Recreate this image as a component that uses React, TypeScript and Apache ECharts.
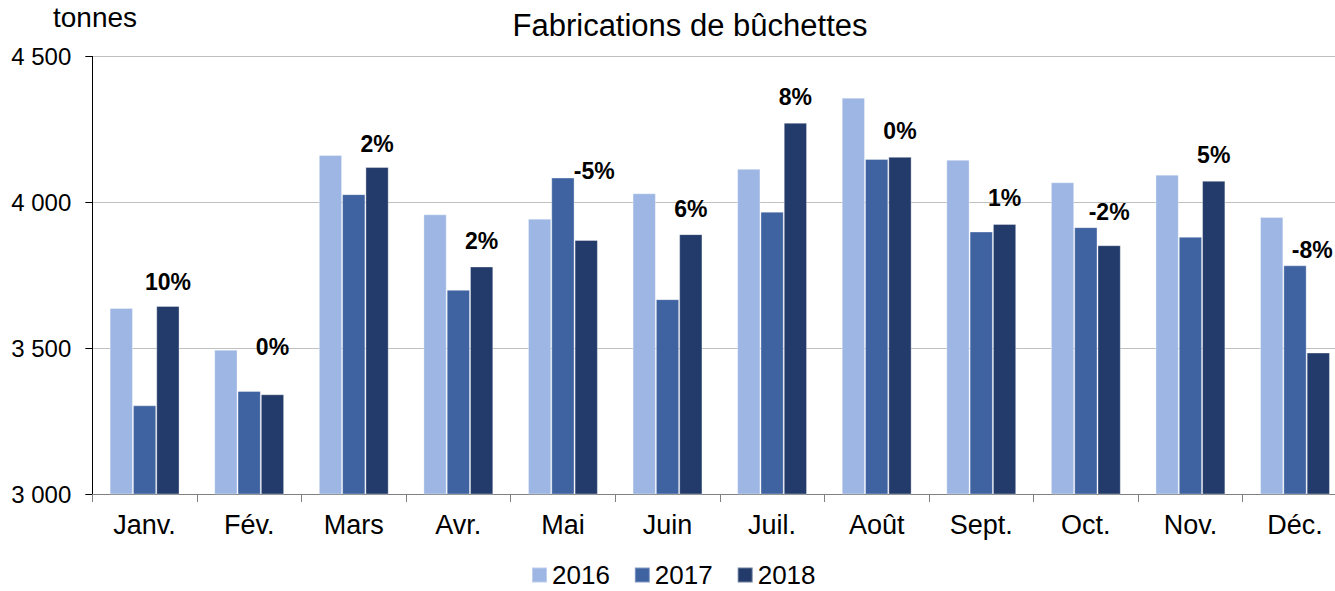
import React, { useEffect, useRef } from "react";
import * as echarts from "echarts";

const categories = ["Janv.", "Fév.", "Mars", "Avr.", "Mai", "Juin", "Juil.", "Août", "Sept.", "Oct.", "Nov.", "Déc."];
const seriesNames = ["2016", "2017", "2018"];
const values2016 = [3638, 3495, 4162, 3959, 3944, 4031, 4115, 4359, 4146, 4069, 4095, 3950];
const values2017 = [3304, 3353, 4028, 3700, 4085, 3668, 3968, 4149, 3900, 3915, 3882, 3784];
const values2018 = [3645, 3342, 4121, 3780, 3871, 3891, 4273, 4156, 3926, 3853, 4074, 3485];
const growthLabels = ["10%", "0%", "2%", "2%", "-5%", "6%", "8%", "0%", "1%", "-2%", "5%", "-8%"];
const yTicks = [3000, 3500, 4000, 4500];

// label placement tweaks (style only)
const labelOffsets: [number, number][] = [
  [0, 1], [0, -23], [0, 1], [0, -1], [8, -44], [0, -1],
  [0, -1], [0, -1], [0, -1], [0, -9], [0, -1], [-6, -78],
];

const colors = ["#9DB6E3", "#3F62A1", "#233B6A"];
const FONT = "'Liberation Sans', Arial, sans-serif";

export default function App() {
  const ref = useRef<HTMLDivElement>(null);
  useEffect(() => {
    if (!ref.current) return;
    const chart = echarts.init(ref.current, undefined, { renderer: "svg" });
    const allValues = [values2016, values2017, values2018];
    const series: any[] = allValues.map((vals, si) => ({
      name: seriesNames[si],
      type: "bar",
      barWidth: 23.3,
      barGap: "0%",
      itemStyle: { color: colors[si], borderColor: "rgba(255,255,255,0.35)", borderWidth: 1 },
      data:
        si === 2
          ? vals.map((v, i) => ({
              value: v,
              label: {
                show: true,
                position: "top",
                distance: 13,
                offset: labelOffsets[i],
                formatter: growthLabels[i],
                fontFamily: FONT,
                fontSize: 23,
                fontWeight: "bold",
                color: "#000",
              },
            }))
          : vals,
    }));

    chart.setOption({
      animation: false,
      backgroundColor: "#fff",
      textStyle: { fontFamily: FONT },
      grid: {
        left: 92.3,
        top: 56.5,
        width: 1255,
        height: 437.5,
        containLabel: false,
        outerBoundsMode: "none",
      },
      legend: {
        data: seriesNames,
        left: 526,
        top: 557,
        icon: "rect",
        itemWidth: 15,
        itemHeight: 15,
        itemGap: 24,
        textStyle: { fontFamily: FONT, fontSize: 26, lineHeight: 26, color: "#000" },
      },
      xAxis: {
        type: "category",
        data: categories,
        boundaryGap: true,
        axisLine: { show: true, lineStyle: { color: "#808080", width: 1 } },
        axisTick: { show: true, length: 8, lineStyle: { color: "#808080" } },
        axisLabel: { fontFamily: FONT, fontSize: 27, color: "#000", margin: 17, interval: 0 },
        splitLine: { show: false },
      },
      yAxis: {
        type: "value",
        min: yTicks[0],
        max: yTicks[yTicks.length - 1],
        interval: 500,
        axisLine: { show: true, lineStyle: { color: "#000", width: 1 } },
        axisTick: { show: true, length: 7, lineStyle: { color: "#000" } },
        axisLabel: {
          fontFamily: FONT,
          fontSize: 24,
          color: "#000",
          margin: 21,
          formatter: (v: number) => {
            const s = String(v);
            return s.length > 3 ? s.slice(0, s.length - 3) + " " + s.slice(-3) : s;
          },
        },
        splitLine: { show: true, lineStyle: { color: "#C0C0C0", width: 1 } },
      },
      graphic: [
        {
          type: "text",
          x: 690,
          y: 25,
          style: {
            text: "Fabrications de bûchettes",
            font: `31px ${FONT}`,
            fill: "#000",
            align: "center",
            verticalAlign: "middle",
          },
        },
        {
          type: "text",
          x: 53,
          y: 17,
          style: {
            text: "tonnes",
            font: `28px ${FONT}`,
            fill: "#000",
            align: "left",
            verticalAlign: "middle",
          },
        },
      ],
      series,
    });
    return () => chart.dispose();
  }, []);
  return (
    <div
      ref={ref}
      style={{ position: "fixed", left: 0, top: 0, width: 1335, height: 591, background: "#fff" }}
    />
  );
}
